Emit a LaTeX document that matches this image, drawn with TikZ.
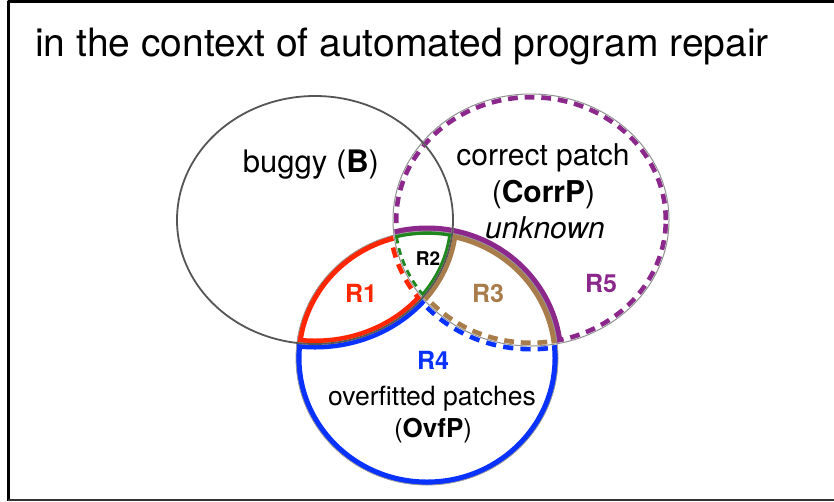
\documentclass[tikz,border=0pt]{standalone}
\usepackage{fontspec}
\setmainfont{TeX Gyre Heros}
\definecolor{cred}{RGB}{255,38,0}
\definecolor{cgrn}{RGB}{30,135,30}
\definecolor{cbrn}{RGB}{168,125,75}
\definecolor{cblu}{RGB}{10,50,255}
\definecolor{cpur}{RGB}{140,40,140}
\definecolor{cgry}{RGB}{85,85,85}
\begin{document}
\begin{tikzpicture}[x=1pt,y=-1pt,line join=round]
\tikzset{
  solidc/.style={line width=11pt},
  dashc/.style={line width=11pt,dash pattern=on 10pt off 7pt},
  solidg/.style={line width=7.5pt},
  dashg/.style={line width=7.5pt,dash pattern=on 7pt off 5pt},
  lbl/.style={anchor=base,inner sep=0pt},
  rl/.style={lbl,font=\fontsize{25}{30}\selectfont\bfseries},
}
\def\Bp{(315,220) ellipse [x radius=138pt, y radius=124pt]}
\def\Cp{(531,220) ellipse [x radius=138pt, y radius=126pt]}
\def\Op{(427,358) ellipse [x radius=131pt, y radius=127pt]}
\def\Bigr{(-100,-100) rectangle (1000,700)}
\useasboundingbox (0,0) rectangle (834,501);
\fill[white] (0,0) rectangle (834,501);
% frame
\draw[black,line width=3pt] (834,1.5) -- (8,1.5) -- (8,501);
\draw[black!80,line width=2pt] (8,499.5) -- (834,499.5);
% R1: B & O minus C
\begin{scope}[even odd rule]
  \clip \Bp; \clip \Op; \clip \Bigr \Cp;
  \draw[cred,solidc] \Bp; \draw[cred,solidc] \Op; \draw[cred,dashc] \Cp;
\end{scope}
% R2: B & C & O
\begin{scope}
  \clip \Bp; \clip \Op; \clip \Cp;
  \draw[cgrn,solidg] \Bp; \draw[cgrn,solidg] \Op; \draw[cgrn,dashg] \Cp;
\end{scope}
% R3: C & O minus B
\begin{scope}[even odd rule]
  \clip \Cp; \clip \Op; \clip \Bigr \Bp;
  \draw[cbrn,solidc] \Bp; \draw[cbrn,solidc] \Op; \draw[cbrn,dashc] \Cp;
\end{scope}
% R4: O minus B minus C
\begin{scope}[even odd rule]
  \clip \Op; \clip \Bigr \Bp; \clip \Bigr \Cp;
  \draw[cblu,solidc] \Op; \draw[cblu,solidc] \Bp; \draw[cblu,dashc] \Cp;
\end{scope}
% R5: C minus O
\begin{scope}[even odd rule]
  \clip \Cp; \clip \Bigr \Op;
  \draw[cpur,solidc] \Op; \draw[cpur,dashc] \Cp;
\end{scope}
% gaps and outlines
\draw[white,line width=1.6pt] \Bp \Cp;
\draw[cgry!60,line width=0.8pt] \Op;
\draw[cgry!65,line width=1pt] \Cp;
\draw[cgry,line width=1.8pt] \Bp;
% texts
\node[anchor=base west,inner sep=0pt,font=\fontsize{39}{44}\selectfont] (title) at (35,56) {in the context of automated program repair};
\node[lbl,font=\fontsize{31}{36}\selectfont] (bug) at (311,172) {buggy (\textbf{B})};
\node[lbl,font=\fontsize{30}{36}\selectfont] (cp1) at (543,165) {correct patch};
\node[lbl,font=\fontsize{30}{36}\selectfont] (cp2) at (543.5,202) {(\textbf{CorrP})};
\node[lbl,font=\fontsize{30}{36}\selectfont\itshape] (cp3) at (545,238) {unknown};
\node[lbl,font=\fontsize{26.5}{32}\selectfont] (ov1) at (432,405) {overfitted patches};
\node[lbl,font=\fontsize{26}{32}\selectfont] (ov2) at (433,437) {(\textbf{OvfP})};
\node[rl,text=cred] (r1) at (361,302) {R1};
\node[lbl,font=\fontsize{19}{23}\selectfont\bfseries] (r2) at (428,265) {R2};
\node[rl,text=cbrn] (r3) at (488,302) {R3};
\node[rl,text=cblu] (r4) at (433,369) {R4};
\node[rl,text=cpur] (r5) at (601,292) {R5};
\end{tikzpicture}
\end{document}
